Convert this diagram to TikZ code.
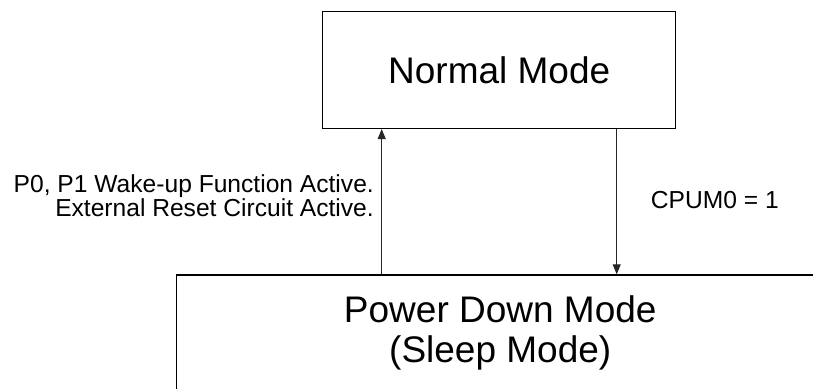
\documentclass[tikz,border=0pt]{standalone}
\usepackage{fontspec}
\setmainfont{Liberation Sans}
\usetikzlibrary{arrows.meta}
\begin{document}
\begin{tikzpicture}[x=1pt,y=-1pt,
  modebox/.style={draw=black, line width=1.5pt, rectangle, inner sep=0pt, align=center,
    font=\fontsize{37}{40}\selectfont},
  conn/.style={draw=black!85, line width=1pt, -{Triangle[length=10pt,width=8pt]}},
  lbl/.style={inner sep=0pt, font=\fontsize{24.6}{22.5}\selectfont}]
\useasboundingbox (0,0) rectangle (813,388);
\clip (0,0) rectangle (813,388);
\node[modebox, minimum width=353pt, minimum height=116.6pt] (nm) at (499.2,70) {Normal Mode};
\node[modebox, minimum width=647.6pt, minimum height=116.6pt, anchor=north west] (pd) at (175.7,274.3) {Power Down Mode\\(Sleep Mode)};
\coordinate (ua) at (381.7,0);
\coordinate (da) at (616.7,0);
\draw[conn] (pd.north -| ua) -- (nm.south -| ua);
\draw[conn] (nm.south -| da) -- (pd.north -| da);
\node[lbl, align=right, anchor=east] (wake) at (374,195.3) {P0, P1 Wake-up Function Active.\\External Reset Circuit Active.};
\node[lbl, anchor=west] (cpum) at (650.7,200.4) {CPUM0 = 1};
\end{tikzpicture}
\end{document}
